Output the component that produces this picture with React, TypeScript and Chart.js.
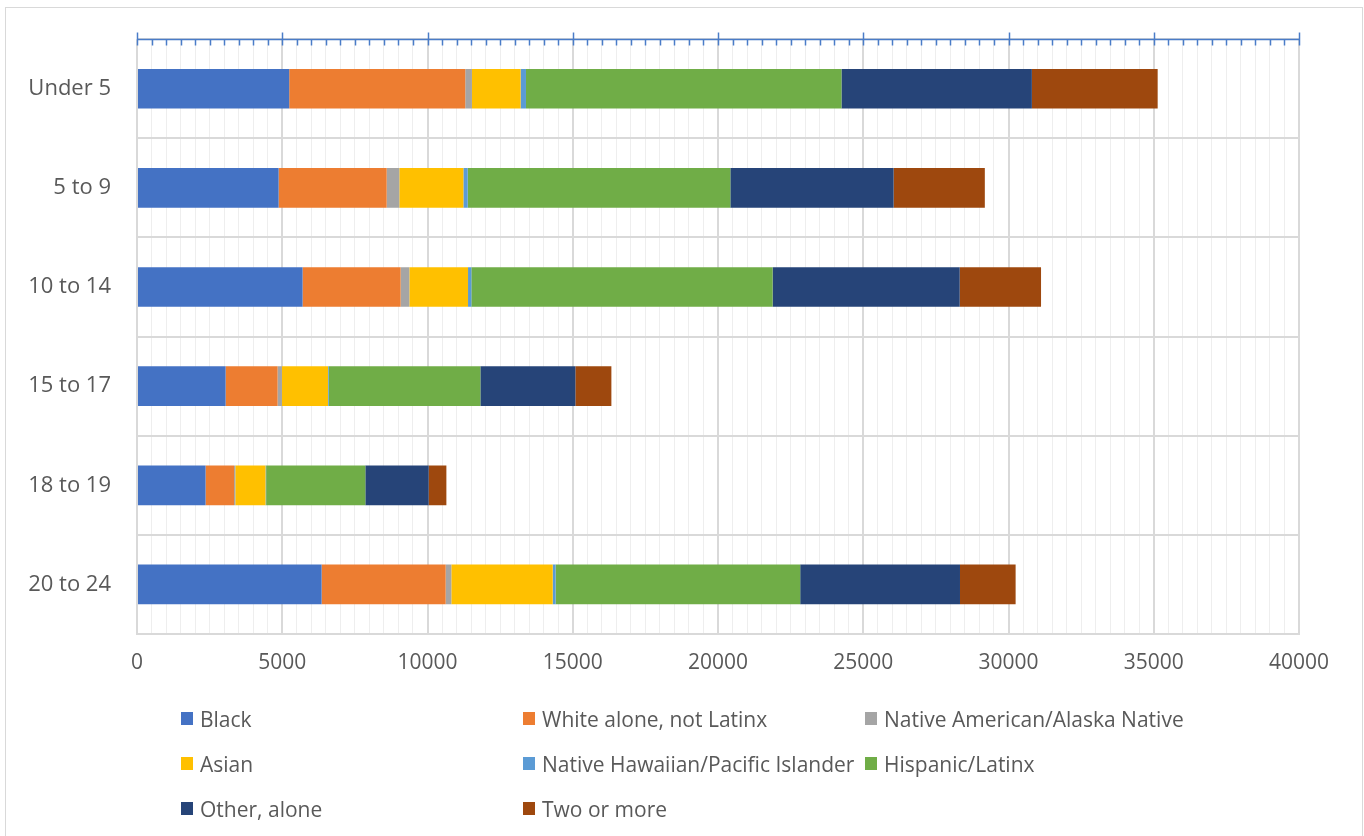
import React, { useEffect, useRef } from "react";
import { Chart, registerables } from "chart.js";

Chart.register(...registerables);

// ---- Data ----
const categories = ["Under 5", "5 to 9", "10 to 14", "15 to 17", "18 to 19", "20 to 24"];
const black = [5240, 4875, 5700, 3050, 2360, 6355];
const whiteNotLatinx = [6060, 3720, 3375, 1790, 980, 4270];
const nativeAmerican = [230, 435, 300, 150, 45, 195];
const asian = [1675, 2205, 2020, 1585, 1040, 3490];
const nativeHawaiian = [185, 150, 115, 25, 20, 100];
const hispanic = [10860, 9040, 10370, 5220, 3415, 8420];
const otherAlone = [6555, 5620, 6440, 3270, 2180, 5500];
const twoOrMore = [4330, 3140, 2800, 1240, 610, 1915];

const seriesNames = [
  "Black",
  "White alone, not Latinx",
  "Native American/Alaska Native",
  "Asian",
  "Native Hawaiian/Pacific Islander",
  "Hispanic/Latinx",
  "Other, alone",
  "Two or more",
];
const seriesValues = [black, whiteNotLatinx, nativeAmerican, asian, nativeHawaiian, hispanic, otherAlone, twoOrMore];
const seriesColors = ["#4472C4", "#ED7D31", "#A5A5A5", "#FFC000", "#5B9BD5", "#70AD47", "#264478", "#9E480E"];

const majorTicks = [0, 5000, 10000, 15000, 20000, 25000, 30000, 35000, 40000];
const minorPerMajor = 10;

const FONT = "'Open Sans', sans-serif";
const TEXT = "#595959";

function buildTicks() {
  const out: { value: number }[] = [];
  for (let i = 0; i < majorTicks.length; i++) {
    out.push({ value: majorTicks[i] });
    if (i < majorTicks.length - 1) {
      const step = (majorTicks[i + 1] - majorTicks[i]) / minorPerMajor;
      for (let k = 1; k < minorPerMajor; k++) out.push({ value: majorTicks[i] + k * step });
    }
  }
  return out;
}

const topAxisPlugin = {
  id: "topAxis",
  afterDraw(chart: any) {
    const { ctx, chartArea, scales } = chart;
    const xs = scales.x;
    const y0 = Math.round(chartArea.top) + 0.5;
    ctx.save();
    ctx.strokeStyle = "#4a7cc8";
    ctx.lineWidth = 1.5;
    ctx.beginPath();
    ctx.moveTo(xs.getPixelForValue(majorTicks[0]), y0);
    ctx.lineTo(xs.getPixelForValue(majorTicks[majorTicks.length - 1]), y0);
    ctx.stroke();
    for (const t of xs.ticks) {
      const px = Math.round(xs.getPixelForValue(t.value)) + 0.5;
      const isMajor = majorTicks.includes(t.value);
      ctx.beginPath();
      ctx.moveTo(px, isMajor ? y0 - 7 : y0);
      ctx.lineTo(px, y0 + 6);
      ctx.stroke();
    }
    ctx.restore();
  },
};

export default function App() {
  const canvasRef = useRef<HTMLCanvasElement | null>(null);

  useEffect(() => {
    if (!canvasRef.current) return;
    const chart = new Chart(canvasRef.current, {
      type: "bar",
      data: {
        labels: categories,
        datasets: seriesNames.map((name, i) => ({
          label: name,
          data: seriesValues[i],
          backgroundColor: seriesColors[i],
          borderWidth: 0,
          barPercentage: 0.4,
          categoryPercentage: 1.0,
        })),
      },
      options: {
        indexAxis: "y",
        animation: false,
        responsive: false,
        maintainAspectRatio: false,
        layout: { padding: { top: 35, left: 0, right: 65, bottom: 0 } },
        plugins: {
          legend: { display: false },
          tooltip: { enabled: false },
          title: { display: false },
        },
        scales: {
          x: {
            type: "linear",
            position: "bottom",
            stacked: true,
            min: 0,
            max: 40000,
            afterBuildTicks: (scale: any) => {
              scale.ticks = buildTicks();
            },
            afterFit: (scale: any) => {
              scale.height = 202;
            },
            ticks: {
              autoSkip: false,
              maxRotation: 0,
              minRotation: 0,
              padding: 16,
              color: TEXT,
              font: { family: FONT, size: 21 },
              callback: (v: any) => (majorTicks.includes(Number(v)) ? String(v) : ""),
            },
            grid: {
              drawTicks: false,
              color: (c: any) => (c.tick && majorTicks.includes(c.tick.value) ? "#d9d9d9" : "#eeeeee"),
              lineWidth: (c: any) => (c.tick && majorTicks.includes(c.tick.value) ? 2 : 1),
            },
            border: { display: true, color: "#d9d9d9", width: 2 },
          },
          y: {
            type: "category",
            stacked: true,
            afterFit: (scale: any) => {
              scale.width = 137;
            },
            ticks: {
              padding: 26,
              color: TEXT,
              font: { family: FONT, size: 22 },
            },
            grid: {
              offset: true,
              drawTicks: false,
              color: "#d9d9d9",
              lineWidth: 2,
            },
            border: { display: false },
          },
        },
      },
      plugins: [topAxisPlugin],
    } as any);
    return () => chart.destroy();
  }, []);

  return (
    <div
      style={{
        position: "fixed",
        left: 0,
        top: 0,
        width: 1364,
        height: 836,
        background: "#ffffff",
        overflow: "hidden",
      }}
    >
      <div
        style={{
          position: "absolute",
          left: 5,
          top: 7,
          width: 1356,
          height: 860,
          border: "1px solid #d9d9d9",
        }}
      />
      <canvas
        ref={canvasRef}
        width={1364}
        height={836}
        style={{ position: "absolute", left: 0, top: 0, width: 1364, height: 836 }}
      />
      <div
        style={{
          position: "absolute",
          left: 181,
          top: 696,
          display: "grid",
          gridTemplateColumns: "342px 342px 342px",
          gridAutoRows: "45px",
          fontFamily: FONT,
          fontSize: 21,
          color: TEXT,
        }}
      >
        {seriesNames.map((name, i) => (
          <div key={name} style={{ display: "flex", alignItems: "center", whiteSpace: "nowrap" }}>
            <span
              style={{
                display: "inline-block",
                width: 12,
                height: 13,
                background: seriesColors[i],
                marginRight: 7,
              }}
            />
            <span>{name}</span>
          </div>
        ))}
      </div>
    </div>
  );
}
